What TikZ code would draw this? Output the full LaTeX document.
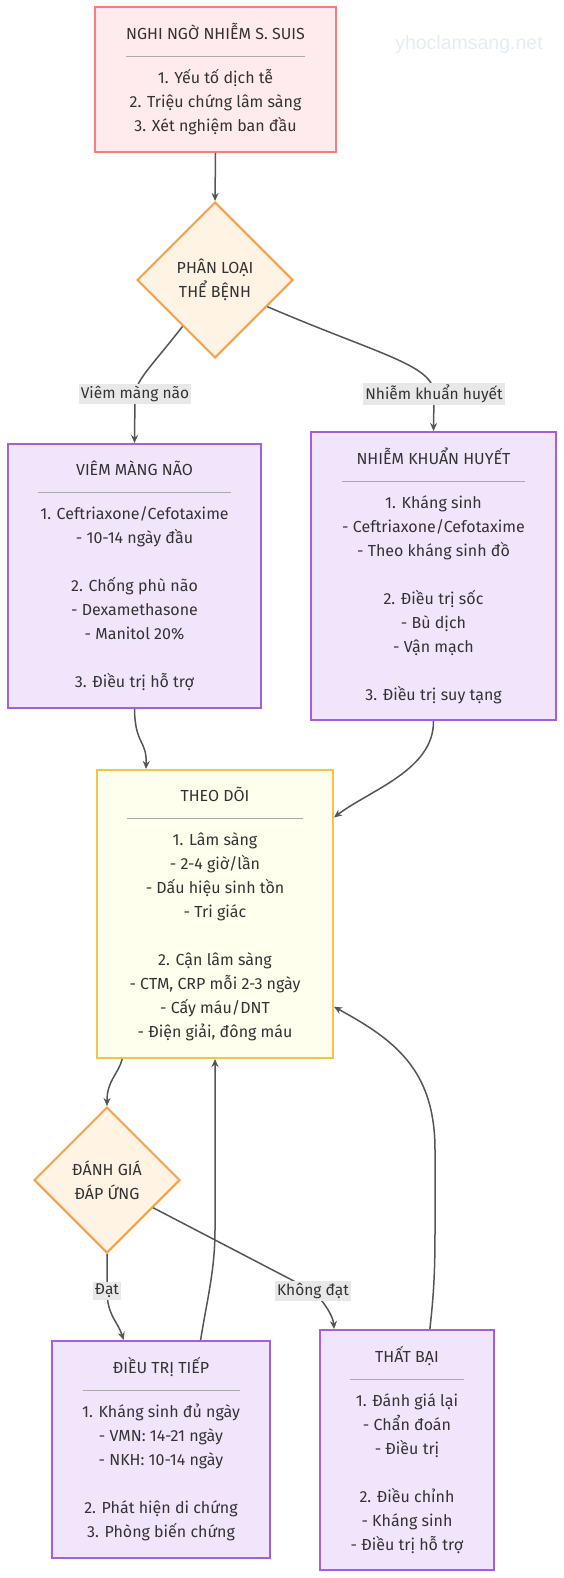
\documentclass[tikz,border=0pt]{standalone}
\usepackage{fontspec}
\setmainfont{Fira Sans}
\newfontfamily\wmfont{Liberation Sans}
\usetikzlibrary{arrows.meta,shapes.geometric,calc}
\usepackage{xcolor}
\definecolor{ink}{HTML}{333333}
\definecolor{wire}{HTML}{555555}
\definecolor{pinkfill}{HTML}{FFEBEE}
\definecolor{pinkline}{HTML}{FF7B7B}
\definecolor{orangefill}{HTML}{FFF3E4}
\definecolor{orangeline}{HTML}{F5A04A}
\definecolor{purplefill}{HTML}{F1E5FC}
\definecolor{purpleline}{HTML}{A35EE6}
\definecolor{yellowfill}{HTML}{FFFFEE}
\definecolor{yellowline}{HTML}{F5C445}
\definecolor{rulegray}{HTML}{AAAAAA}
\definecolor{lblgray}{HTML}{E8E8E8}
\definecolor{wmblue}{HTML}{E4ECF7}
\newcommand{\seprule}[1]{\textcolor{rulegray}{\rule{#1}{1pt}}}
\tikzset{
  base/.style={font=\fontsize{16}{24}\selectfont,align=center,text=ink,line width=2pt,inner sep=0pt},
  alert/.style={base,draw=pinkline,fill=pinkfill},
  choice/.style={base,diamond,aspect=1,draw=orangeline,fill=orangefill},
  treat/.style={base,draw=purpleline,fill=purplefill},
  watch/.style={base,draw=yellowline,fill=yellowfill},
  lbl/.style={font=\fontsize{15.5}{18}\selectfont,text=ink,fill=lblgray,inner sep=2pt},
  wmark/.style={font=\wmfont\fontsize{19.5}{22}\selectfont,text=wmblue},
  flow/.style={-{Stealth[length=8pt,width=7pt]},line width=1.5pt,draw=wire}
}
\begin{document}
\begin{tikzpicture}[x=1pt,y=-1pt]
\useasboundingbox (0,0) rectangle (564,1578);
\node[wmark] (site) at (469,44) {yhoclamsang.net};

\node[alert,minimum width=241pt,minimum height=145pt] (suspect) at (215.5,79.5)
  {NGHI NGỜ NHIỄM S. SUIS\\[-7pt]\seprule{179pt}\\[3pt]1. Yếu tố dịch tễ\\2. Triệu chứng lâm sàng\\3. Xét nghiệm ban đầu};
\node[choice,minimum width=156pt,minimum height=156pt] (dx) at (215,280) {PHÂN LOẠI\\THỂ BỆNH};

\node[treat,minimum width=253pt,minimum height=264pt] (vmn) at (134.5,576)
  {VIÊM MÀNG NÃO\\[-7pt]\seprule{193pt}\\[3pt]1. Ceftriaxone/Cefotaxime\\- 10-14 ngày đầu\\[24pt]2. Chống phù não\\- Dexamethasone\\- Manitol 20\%\\[24pt]3. Điều trị hỗ trợ};
\node[treat,minimum width=245pt,minimum height=288pt] (nkh) at (433.5,576)
  {NHIỄM KHUẨN HUYẾT\\[-7pt]\seprule{183pt}\\[3pt]1. Kháng sinh\\- Ceftriaxone/Cefotaxime\\- Theo kháng sinh đồ\\[24pt]2. Điều trị sốc\\- Bù dịch\\- Vận mạch\\[24pt]3. Điều trị suy tạng};

\node[watch,minimum width=236pt,minimum height=288pt] (theodoi) at (215,914)
  {THEO DÕI\\[-7pt]\seprule{176pt}\\[3pt]1. Lâm sàng\\- 2-4 giờ/lần\\- Dấu hiệu sinh tồn\\- Tri giác\\[24pt]2. Cận lâm sàng\\- CTM, CRP mỗi 2-3 ngày\\- Cấy máu/DNT\\- Điện giải, đông máu};
\node[choice,minimum width=146pt,minimum height=146pt] (eval) at (107,1180) {ĐÁNH GIÁ\\ĐÁP ỨNG};

\node[treat,minimum width=218pt,minimum height=217pt] (tiep) at (161,1449.5)
  {ĐIỀU TRỊ TIẾP\\[-7pt]\seprule{157pt}\\[3pt]1. Kháng sinh đủ ngày\\- VMN: 14-21 ngày\\- NKH: 10-14 ngày\\[24pt]2. Phát hiện di chứng\\3. Phòng biến chứng};
\node[treat,minimum width=174pt,minimum height=240pt] (fail) at (407,1450)
  {THẤT BẠI\\[-7pt]\seprule{114pt}\\[3pt]1. Đánh giá lại\\- Chẩn đoán\\- Điều trị\\[24pt]2. Điều chỉnh\\- Kháng sinh\\- Điều trị hỗ trợ};

\draw[flow] (suspect.south) -- (dx.north);
\draw[flow] (dx.-125) .. controls (155,362) and (136,380) .. (135,394) node[lbl] {Viêm màng não} -- (vmn.north);
\draw[flow] (dx.-27) .. controls (380,355) and (434,365) .. (434,394) node[lbl] {Nhiễm khuẩn huyết} -- (nkh.north);
\draw[flow] (vmn.south) .. controls (135,745) and (147,740) .. ($(theodoi.north west)!0.21!(theodoi.north east)$);
\draw[flow] (nkh.south) .. controls (434,770) and (370,790) .. ($(theodoi.north east)!0.167!(theodoi.south east)$);
\draw[flow] ($(theodoi.south west)!0.11!(theodoi.south east)$) .. controls (118,1075) and (107,1080) .. (eval.north);
\draw[flow] (eval.south) -- (107,1291) node[lbl] {Đạt} .. controls (107,1315) and (118,1322) .. ($(tiep.north west)!0.33!(tiep.north east)$);
\draw[flow] (eval.-31) -- (313,1291) node[lbl] {Không đạt} .. controls (325,1303) and (333,1316) .. ($(fail.north west)!0.086!(fail.north east)$);
\draw[flow] ($(tiep.north west)!0.68!(tiep.north east)$) .. controls (207,1300) and (215,1270) .. (215,1230) -- (theodoi.south);
\draw[flow] ($(fail.north west)!0.63!(fail.north east)$) .. controls (433,1300) and (435,1280) .. (435,1230) -- (435,1150) .. controls (435,1070) and (395,1040) .. ($(theodoi.north east)!0.82!(theodoi.south east)$);
\end{tikzpicture}
\end{document}
